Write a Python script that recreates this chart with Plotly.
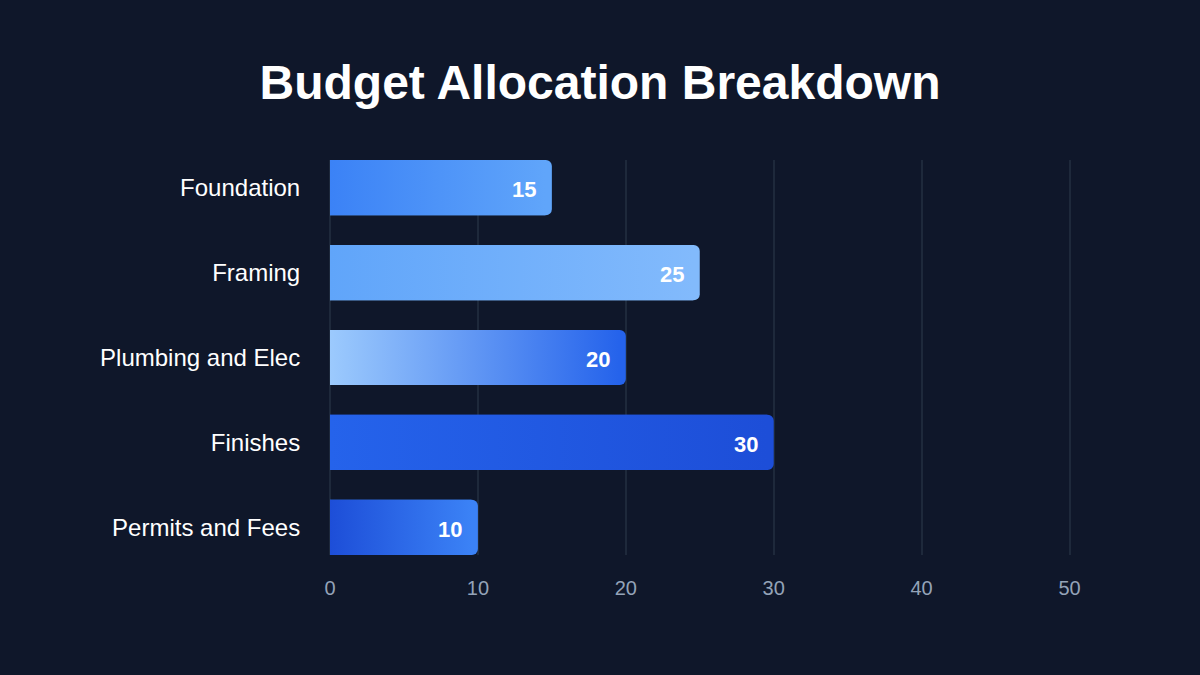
import plotly.graph_objects as go

categories = ["Foundation", "Framing", "Plumbing and Elec", "Finishes", "Permits and Fees"]
values = [15, 25, 20, 30, 10]
grad_start = ["#3b82f6", "#60a5fa", "#9ccafd", "#2563eb", "#1d4ed8"]
grad_end = ["#60a5fa", "#82bafc", "#2563eb", "#1d4ed8", "#3b82f6"]
x_ticks = [0, 10, 20, 30, 40, 50]

BG = "#0f172a"
GRID = "#1e293b"
BAR_W = 0.65
CORNER_UNITS = 0.45
X_MAX = 50.1

n = len(categories)
ypos = [n - 1 - i for i in range(n)]

fig = go.Figure()

# base bars (rounded ends, end colour)
fig.add_trace(go.Bar(
    y=ypos, x=values, orientation="h", width=BAR_W,
    marker=dict(color=grad_end, line=dict(width=0), cornerradius=6),
    hoverinfo="skip", showlegend=False,
))

# gradient overlays
for i, (v, y) in enumerate(zip(values, ypos)):
    x1 = v - CORNER_UNITS
    fig.add_trace(go.Scatter(
        x=[0, x1, x1, 0, 0],
        y=[y - BAR_W / 2, y - BAR_W / 2, y + BAR_W / 2, y + BAR_W / 2, y - BAR_W / 2],
        mode="lines", line=dict(width=0), fill="toself",
        fillgradient=dict(type="horizontal",
                          colorscale=[[0, grad_start[i]], [1, grad_end[i]]],
                          start=0, stop=x1),
        hoverinfo="skip", showlegend=False,
    ))

for v, y in zip(values, ypos):
    fig.add_annotation(x=v, y=y, text=f"<b>{v}</b>", showarrow=False,
                       xanchor="right", xshift=-14, yshift=-2,
                       font=dict(size=22, color="#ffffff", family="Liberation Sans, Arial, sans-serif"))

plot_w = 740 * X_MAX / 50
fig.update_layout(
    width=1200, height=675,
    paper_bgcolor=BG, plot_bgcolor=BG,
    margin=dict(l=330, r=1200 - 330 - plot_w, t=160, b=120),
    title=dict(text="<b>Budget Allocation Breakdown</b>", x=0.5, xanchor="center",
               y=1 - 82 / 675, yanchor="middle",
               font=dict(size=48, color="#ffffff", family="Liberation Sans, Arial, sans-serif")),
    font=dict(family="Liberation Sans, Arial, sans-serif"),
    showlegend=False,
)
fig.update_xaxes(range=[0, X_MAX], tickvals=x_ticks, showgrid=True, gridcolor=GRID, gridwidth=2,
                 zeroline=True, zerolinecolor=GRID, zerolinewidth=2, showline=False,
                 ticks="outside", ticklen=15, tickcolor="rgba(0,0,0,0)",
                 tickfont=dict(size=20, color="#94a3b8"), fixedrange=True)
fig.update_yaxes(range=[-BAR_W / 2, n - 1 + BAR_W / 2], tickvals=ypos, ticktext=categories,
                 showgrid=False, zeroline=False, showline=False,
                 ticks="outside", ticklen=24, tickcolor="rgba(0,0,0,0)",
                 tickfont=dict(size=24, color="#ffffff"), fixedrange=True)

fig.write_html("out.html")
